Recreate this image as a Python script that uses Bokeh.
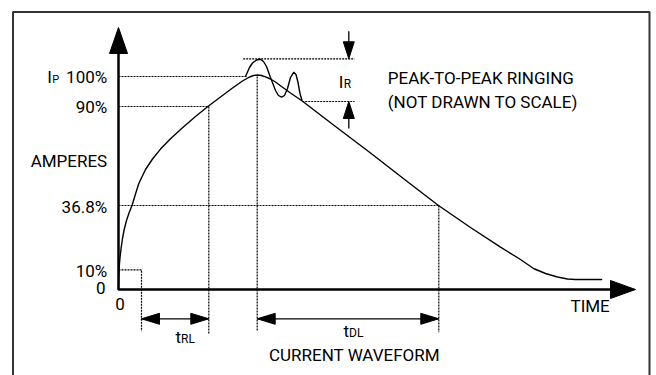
from bokeh.plotting import figure
from bokeh.models import Range1d
from bokeh.core.properties import value
from bokeh.embed import file_html
from bokeh.resources import INLINE

# ---- data (time and current in arbitrary diagram units; NOT drawn to scale) ----
curve_t = [0, 0.2, 0.6, 1.5, 2.7, 4, 5.7, 8, 10.7, 13.7, 17, 20.3, 27, 34, 42, 52, 64, 77,
           90, 102, 114, 124, 131, 135, 138.7, 143, 147, 152, 157, 163, 172, 183.7, 215,
           252, 288.7, 320, 352, 382, 402, 415, 427, 439, 449, 457, 483.7]
curve_i = [0, 11, 21, 32, 42, 51, 60, 69, 77, 84.5, 95.5, 106, 120, 130.5, 140.4, 150.8,
           161.8, 173, 183.5, 192.5, 201.5, 208.5, 212.5, 214, 214.5, 214, 212.7, 210.5,
           207.5, 203, 196.5, 188.5, 164.5, 136.5, 108, 84, 62, 42.3, 30, 21, 16, 12.5,
           10.5, 10, 10]
ring_t = [127, 131, 134, 138, 142, 145, 148, 152, 157, 160, 163, 166, 169, 172, 175.3,
          177.5, 179.5, 181.5, 183.5]
ring_i = [213, 222, 226.5, 229.5, 230.3, 228, 223, 212, 199, 194, 192.3, 194, 201, 212,
          217.3, 215, 207, 196, 189]

level_labels = ["100%", "90%", "36.8%", "10%", "0"]
lvl_100, lvl_90, lvl_368, lvl_10 = 213.0, 183.0, 84.0, 19.7
ring_top, ring_bot = 230.7, 188.0
t_10, t_90, t_peak, t_368 = 23.0, 90.3, 138.7, 320.3
t_axis_end, i_axis_end = 517.0, 262.0

# ---- canvas geometry (1 unit = 1 px) ----
W, H = 656, 375
x0, y0 = -118.0, -86.0
fig = figure(width=W, height=H, output_backend="svg", toolbar_location=None,
             x_range=Range1d(x0, x0 + W), y_range=Range1d(y0, y0 + H),
             min_border=0, outline_line_color=None)
fig.axis.visible = False
fig.grid.visible = False
fig.background_fill_color = "white"

FONT = value("Roboto")
BLK = "black"


def tri(tip, direction, length, half):
    tx, ty = tip
    if direction == "up":
        return [tx, tx - half, tx + half], [ty, ty - length, ty - length]
    if direction == "down":
        return [tx, tx - half, tx + half], [ty, ty + length, ty + length]
    if direction == "right":
        return [tx, tx - length, tx - length], [ty, ty + half, ty - half]
    return [tx, tx + length, tx + length], [ty, ty + half, ty - half]


# border (open at the bottom)
bx0, bx1, by1 = -105.5, 531.0, 277.5
fig.line([bx0, bx0, bx1, bx1], [y0 - 5, by1, by1, y0 - 5], line_color="#333333", line_width=2)

# dotted guide lines
dots = dict(line_color=BLK, line_width=1.2, line_dash="2 1")
fig.line([0, 129], [lvl_100, lvl_100], **dots)
fig.line([124.7, 236], [ring_top, ring_top], **dots)
fig.line([183.7, 236], [ring_bot, ring_bot], **dots)
fig.line([0, t_90], [lvl_90, lvl_90], **dots)
fig.line([0, t_368], [lvl_368, lvl_368], **dots)
fig.line([0, t_10, t_10], [lvl_10, lvl_10, -41.7], **dots)
fig.line([t_90, t_90], [lvl_90, -45.0], **dots)
fig.line([t_peak, t_peak], [lvl_100, -41.7], **dots)
fig.line([t_368, t_368], [lvl_368, -42.7], **dots)

# waveform
fig.line(curve_t, curve_i, line_color=BLK, line_width=1.4)
fig.line(ring_t, ring_i, line_color=BLK, line_width=1.4)

# axes
fig.line([0, 0, t_axis_end - 20], [i_axis_end - 20, 0, 0], line_color=BLK, line_width=2.5)
xs, ys = tri((0, i_axis_end), "up", 26, 9)
fig.patch(xs, ys, color=BLK)
xs, ys = tri((t_axis_end, 0), "right", 25, 9)
fig.patch(xs, ys, color=BLK)

# dimension arrows
ay = -29.3
fig.line([t_10, t_90], [ay, ay], line_color=BLK, line_width=1.3)
fig.line([t_peak, t_368], [ay, ay], line_color=BLK, line_width=1.3)
for tip, d in [((t_10, ay), "left"), ((t_90, ay), "right"),
               ((t_peak, ay), "left"), ((t_368, ay), "right")]:
    xs, ys = tri(tip, d, 18, 5.5)
    fig.patch(xs, ys, color=BLK)
ax = 230.3
fig.line([ax, ax], [258.3, ring_top + 2], line_color=BLK, line_width=1.3)
fig.line([ax, ax], [161.0, ring_bot - 2], line_color=BLK, line_width=1.3)
xs, ys = tri((ax, ring_top), "down", 17, 5.5)
fig.patch(xs, ys, color=BLK)
xs, ys = tri((ax, ring_bot), "up", 17, 5.5)
fig.patch(xs, ys, color=BLK)

# texts (y given as the wanted baseline; shifted to compensate renderer placement)
BIG = 17


def txt(x, y, s, align="left", size=BIG):
    fig.text([x], [y + 0.35 * size], text=[s], text_font=FONT, text_font_size=f"{size}px",
             text_color=BLK, text_align=align, text_baseline="alphabetic")


txt(-11.3, 206.3, level_labels[0], "right")
txt(-71.3, 206.3, "I")
txt(-66.3, 206.3, "P", size=11)
txt(-11.3, 176.7, level_labels[1], "right")
txt(-11.3, 122.3, "AMPERES", "right")
txt(-11.3, 76.3, level_labels[2], "right")
txt(-11.3, 12.3, level_labels[3], "right")
txt(-13.0, -4.3, level_labels[4], "right")
txt(1.5, -20.3, "0", "center")
txt(452, -22.7, "TIME")
txt(57, -53.7, "t")
txt(62.5, -53.7, "RL", size=12)
txt(225, -47.7, "t")
txt(230.5, -47.7, "DL", size=12)
txt(236, -71.5, "CURRENT WAVEFORM", "center")
txt(220.3, 201.7, "I")
txt(225.3, 201.7, "R", size=12)
txt(269.3, 205.7, "PEAK-TO-PEAK RINGING")
txt(269.3, 181.7, "(NOT DRAWN TO SCALE)")

open("out.html", "w").write(file_html(fig, INLINE))
